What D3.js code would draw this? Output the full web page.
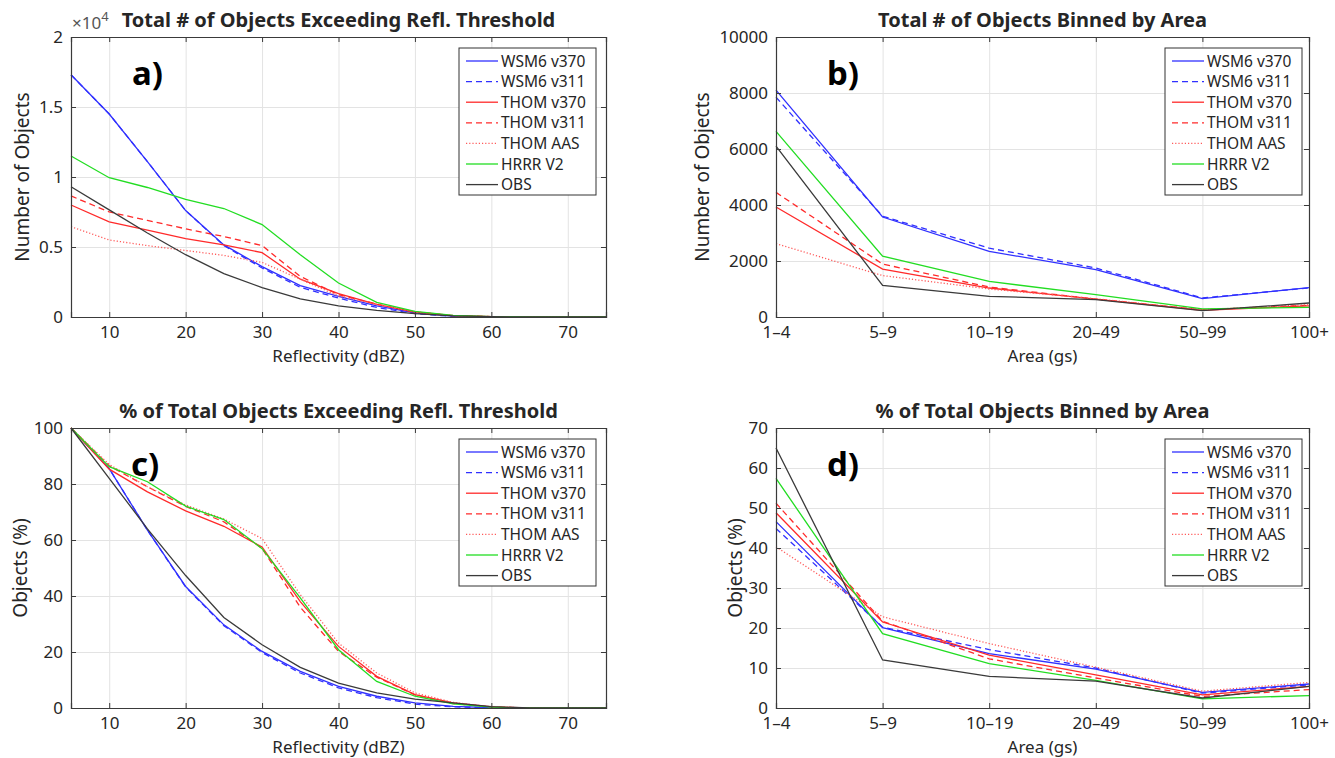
<!DOCTYPE html>
<html>
<head>
<meta charset="utf-8">
<script src="https://cdn.jsdelivr.net/npm/d3@7"></script>
<style>
  body { margin: 0; background: #fff; }
  svg text { font-family: "Noto Sans", "DejaVu Sans", sans-serif; fill: #262626; }
</style>
</head>
<body>
<svg id="chart" width="1335" height="758"></svg>
<script>
// legend names, in plot order
const seriesNames = ["WSM6 v370", "WSM6 v311", "THOM v370", "THOM v311", "THOM AAS", "HRRR V2", "OBS"];

// reflectivity thresholds (dBZ)
const refl = [5, 10, 15, 20, 25, 30, 35, 40, 45, 50, 55, 60, 65, 70, 75];
const reflTicks = [10, 20, 30, 40, 50, 60, 70];

// a) total objects exceeding threshold (x 10^4)
const countWsm370 = [1.73, 1.45, 1.11, 0.76, 0.515, 0.36, 0.224, 0.148, 0.08, 0.03, 0.006, 0.001, 0, 0, 0];
const countWsm311 = [1.73, 1.45, 1.11, 0.76, 0.51, 0.35, 0.212, 0.135, 0.068, 0.024, 0.004, 0.001, 0, 0, 0];
const countThom370 = [0.80, 0.68, 0.62, 0.56, 0.515, 0.46, 0.27, 0.167, 0.09, 0.035, 0.01, 0.002, 0, 0, 0];
const countThom311 = [0.865, 0.75, 0.69, 0.63, 0.575, 0.51, 0.29, 0.16, 0.092, 0.035, 0.01, 0.003, 0, 0, 0];
const countThomAas = [0.645, 0.55, 0.51, 0.475, 0.44, 0.39, 0.27, 0.15, 0.09, 0.038, 0.01, 0.002, 0, 0, 0];
const countHrrr = [1.15, 0.995, 0.925, 0.84, 0.775, 0.66, 0.445, 0.243, 0.105, 0.04, 0.012, 0.003, 0, 0, 0];
const countObs = [0.93, 0.765, 0.60, 0.445, 0.31, 0.21, 0.13, 0.08, 0.048, 0.024, 0.008, 0.002, 0, 0, 0];

// c) percent of objects exceeding threshold
const pctWsm370 = [100, 85.5, 63.5, 43.4, 29.7, 20.2, 13.1, 7.7, 4.2, 1.8, 0.6, 0.1, 0, 0, 0];
const pctWsm311 = [100, 85.5, 63.5, 43.2, 29.4, 19.8, 12.5, 7.2, 3.7, 1.4, 0.4, 0.1, 0, 0, 0];
const pctThom370 = [100, 85.3, 77.2, 70.4, 64.9, 57.5, 38, 22, 11.3, 4.8, 1.8, 0.4, 0, 0, 0];
const pctThom311 = [100, 86.5, 79, 72, 66.5, 57, 36, 20.2, 11, 4.7, 1.6, 0.4, 0, 0, 0];
const pctThomAas = [100, 87, 79, 72.5, 67.5, 60.5, 40.5, 23.2, 12.5, 5.4, 2, 0.4, 0, 0, 0];
const pctHrrr = [100, 86.2, 80.8, 72.1, 67.3, 56.9, 39.3, 20.8, 9.5, 4.2, 1.5, 0.3, 0, 0, 0];
const pctObs = [100, 82, 64, 47.3, 32.3, 22.6, 14.5, 8.9, 5.4, 3.2, 1.8, 0.5, 0, 0, 0];

// area bins (grid squares)
const areaBins = ["1\u20134", "5\u20139", "10\u201319", "20\u201349", "50\u201399", "100+"];

// b) total objects per area bin
const areaWsm370 = [8100, 3570, 2345, 1690, 655, 1050];
const areaWsm311 = [7850, 3600, 2460, 1750, 680, 1040];
const areaThom370 = [3930, 1710, 1035, 640, 240, 400];
const areaThom311 = [4450, 1890, 1070, 640, 260, 420];
const areaThomAas = [2620, 1480, 1000, 650, 260, 440];
const areaHrrr = [6630, 2170, 1270, 800, 290, 345];
const areaObs = [6100, 1130, 740, 620, 225, 500];

// d) percent of objects per area bin
const shareWsm370 = [46.6, 20.1, 13.6, 9.7, 3.9, 6.0];
const shareWsm311 = [44.9, 20.2, 14.6, 10.0, 3.7, 5.8];
const shareThom370 = [48.8, 21.5, 13.2, 8.3, 3.3, 5.4];
const shareThom311 = [51.2, 21.7, 12.3, 7.5, 2.9, 4.6];
const shareThomAas = [40.3, 22.8, 16.1, 10.2, 4.2, 6.4];
const shareHrrr = [57.4, 18.6, 11.1, 6.9, 2.3, 3.1];
const shareObs = [65, 12.0, 7.9, 6.7, 2.5, 5.4];

// line styles per series
const colors = ["#3030ff", "#3030ff", "#ff2a2a", "#ff2a2a", "#ff5a5a", "#22dd22", "#3a3a3a"];
const dashes = [null, "6,4", null, "6,4", "1.2,2", null, null];

let svg = d3.select("#chart");

function drawPanel(opt) {
  let w = opt.width, h = opt.height;
  let g = svg.append("g").attr("transform", "translate(" + opt.left + "," + opt.top + ")");

  let x;
  if (opt.categories) {
    x = d3.scalePoint().domain(opt.categories).range([0, w]);
  } else {
    x = d3.scaleLinear().domain(opt.xDomain).range([0, w]);
  }
  let y = d3.scaleLinear().domain(opt.yDomain).range([h, 0]);

  // grid
  let gridX = opt.categories ? d3.axisBottom(x) : d3.axisBottom(x).tickValues(opt.xTicks);
  g.append("g").attr("class", "grid")
    .attr("transform", "translate(0," + h + ")")
    .call(gridX.tickSize(-h).tickFormat(""));
  g.append("g").attr("class", "grid")
    .call(d3.axisLeft(y).tickValues(opt.yTicks).tickSize(-w).tickFormat(""));
  g.selectAll(".grid line").attr("stroke", "#e3e3e3").attr("stroke-width", 1);
  g.selectAll(".grid path").remove();

  // lines
  let line = d3.line()
    .x(function (d, i) { return opt.categories ? x(opt.categories[i]) : x(opt.xValues[i]); })
    .y(function (d) { return y(d); });

  opt.series.forEach(function (s, k) {
    g.append("path")
      .datum(s)
      .attr("d", line)
      .attr("fill", "none")
      .attr("stroke", colors[k])
      .attr("stroke-width", 1.3)
      .attr("stroke-dasharray", dashes[k]);
  });

  // axes with inward ticks
  let bottom = opt.categories ? d3.axisBottom(x) : d3.axisBottom(x).tickValues(opt.xTicks);
  g.append("g").attr("class", "ax")
    .attr("transform", "translate(0," + h + ")")
    .call(bottom.tickSize(-5).tickPadding(9));
  let top = opt.categories ? d3.axisTop(x) : d3.axisTop(x).tickValues(opt.xTicks);
  g.append("g").attr("class", "ax")
    .call(top.tickSize(-5).tickFormat(""));
  g.append("g").attr("class", "ax")
    .call(d3.axisLeft(y).tickValues(opt.yTicks).tickSize(-5).tickPadding(8).tickFormat(opt.yFormat));
  g.append("g").attr("class", "ax")
    .attr("transform", "translate(" + w + ",0)")
    .call(d3.axisRight(y).tickValues(opt.yTicks).tickSize(-5).tickFormat(""));
  g.selectAll(".ax path").attr("stroke", "#3a3a3a").attr("stroke-width", 1.2);
  g.selectAll(".ax line").attr("stroke", "#3a3a3a");
  g.selectAll(".ax text").attr("font-size", 17).style("fill", "#262626");

  // titles and labels
  g.append("text")
    .attr("x", w / 2).attr("y", -10)
    .attr("text-anchor", "middle")
    .attr("font-size", 20).attr("font-weight", "bold")
    .text(opt.title);
  g.append("text")
    .attr("x", w / 2).attr("y", h + 45)
    .attr("text-anchor", "middle")
    .attr("font-size", 17)
    .text(opt.xLabel);
  g.append("text")
    .attr("transform", "translate(" + opt.yLabelX + "," + h / 2 + ") rotate(-90)")
    .attr("text-anchor", "middle")
    .attr("font-size", 19)
    .text(opt.yLabel);
  g.append("text")
    .attr("x", opt.tagX).attr("y", 48)
    .attr("font-size", 33).attr("font-weight", "bold")
    .style("fill", "#000")
    .text(opt.tag);

  if (opt.exponent) {
    let e = g.append("text").attr("x", 1).attr("y", -8).attr("font-size", 17).style("fill", "#555");
    e.append("tspan").text("\u00d710");
    e.append("tspan").attr("dy", -8).attr("font-size", 13).text("4");
  }

  // legend
  let lg = g.append("g").attr("transform", "translate(" + opt.legendX + ",11)");
  lg.append("rect")
    .attr("width", 137).attr("height", 147)
    .attr("fill", "#fff").attr("stroke", "#333").attr("stroke-width", 1);
  seriesNames.forEach(function (name, k) {
    let yy = 13 + k * 20.6;
    lg.append("line")
      .attr("x1", 7).attr("x2", 39).attr("y1", yy).attr("y2", yy)
      .attr("stroke", colors[k]).attr("stroke-width", 1.3)
      .attr("stroke-dasharray", dashes[k]);
    lg.append("text")
      .attr("x", 42).attr("y", yy + 5.5)
      .attr("font-size", 15.5)
      .text(name);
  });
}

let fmtPlain = function (d) { return String(d); };

drawPanel({
  left: 71, top: 37, width: 535, height: 280,
  xDomain: [5, 75], xValues: refl, xTicks: reflTicks,
  yDomain: [0, 2], yTicks: [0, 0.5, 1, 1.5, 2], yFormat: fmtPlain,
  series: [countWsm370, countWsm311, countThom370, countThom311, countThomAas, countHrrr, countObs],
  title: "Total # of Objects Exceeding Refl. Threshold",
  xLabel: "Reflectivity (dBZ)", yLabel: "Number of Objects", yLabelX: -42,
  tag: "a)", tagX: 61, legendX: 388, exponent: true
});

drawPanel({
  left: 776, top: 37, width: 533, height: 280,
  categories: areaBins,
  yDomain: [0, 10000], yTicks: [0, 2000, 4000, 6000, 8000, 10000], yFormat: fmtPlain,
  series: [areaWsm370, areaWsm311, areaThom370, areaThom311, areaThomAas, areaHrrr, areaObs],
  title: "Total # of Objects Binned by Area",
  xLabel: "Area (gs)", yLabel: "Number of Objects", yLabelX: -67,
  tag: "b)", tagX: 51, legendX: 389
});

drawPanel({
  left: 71, top: 428, width: 535, height: 280,
  xDomain: [5, 75], xValues: refl, xTicks: reflTicks,
  yDomain: [0, 100], yTicks: [0, 20, 40, 60, 80, 100], yFormat: fmtPlain,
  series: [pctWsm370, pctWsm311, pctThom370, pctThom311, pctThomAas, pctHrrr, pctObs],
  title: "% of Total Objects Exceeding Refl. Threshold",
  xLabel: "Reflectivity (dBZ)", yLabel: "Objects (%)", yLabelX: -44,
  tag: "c)", tagX: 60, legendX: 388
});

drawPanel({
  left: 776, top: 428, width: 533, height: 280,
  categories: areaBins,
  yDomain: [0, 70], yTicks: [0, 10, 20, 30, 40, 50, 60, 70], yFormat: fmtPlain,
  series: [shareWsm370, shareWsm311, shareThom370, shareThom311, shareThomAas, shareHrrr, shareObs],
  title: "% of Total Objects Binned by Area",
  xLabel: "Area (gs)", yLabel: "Objects (%)", yLabelX: -34,
  tag: "d)", tagX: 51, legendX: 389
});
</script>
</body>
</html>
